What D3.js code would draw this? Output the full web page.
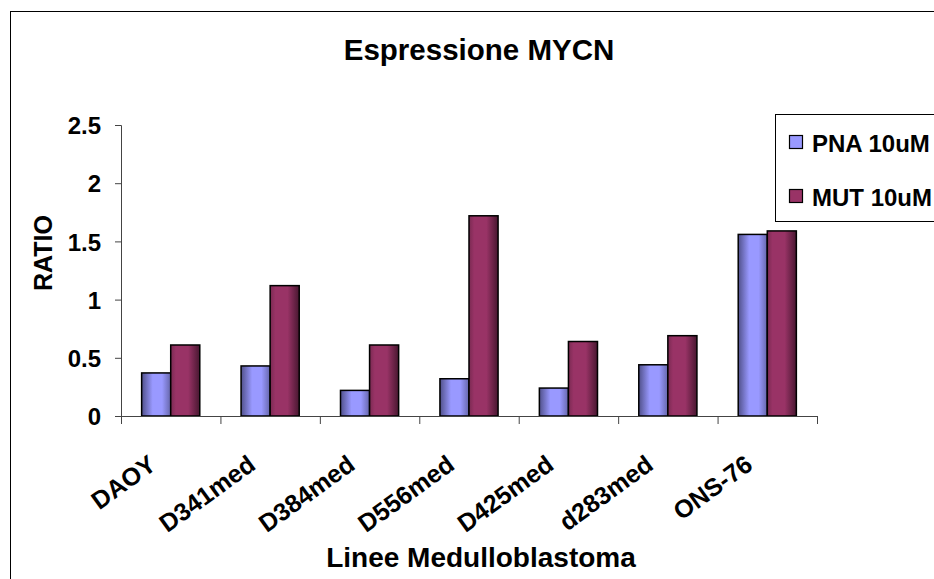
<!DOCTYPE html>
<html>
<head>
<meta charset="utf-8">
<script src="https://cdn.jsdelivr.net/npm/d3@7"></script>
<style>
  body { margin: 0; background: #fff; }
  svg text { font-family: "Liberation Sans", Arial, sans-serif; font-weight: bold; fill: #000; }
</style>
</head>
<body>
<div id="chart"></div>
<script>
const categories = ['DAOY', 'D341med', 'D384med', 'D556med', 'D425med', 'd283med', 'ONS-76'];
const seriesNames = ['PNA 10uM', 'MUT 10uM'];
const pnaValues = [0.37, 0.43, 0.22, 0.32, 0.24, 0.44, 1.56];
const mutValues = [0.61, 1.12, 0.61, 1.72, 0.64, 0.69, 1.59];
const yTicks = [0, 0.5, 1, 1.5, 2, 2.5];

const width = 934, height = 579;
const margin = { top: 125, right: 117, bottom: 163, left: 121 };
const innerWidth = width - margin.left - margin.right;
const innerHeight = height - margin.top - margin.bottom;

const svg = d3.select('#chart').append('svg')
  .attr('width', width)
  .attr('height', height);

// gradients like the old office shaded bars
const defs = svg.append('defs');
const gradStops = {
  'grad-pna': [['0%', '#50508a'], ['38%', '#9999ff'], ['70%', '#9999ff'], ['100%', '#6666aa']],
  'grad-mut': [['0%', '#7a2a52'], ['18%', '#993366'], ['60%', '#993366'], ['100%', '#481730']]
};
Object.entries(gradStops).forEach(([id, stops]) => {
  const g = defs.append('linearGradient').attr('id', id)
    .attr('x1', '0%').attr('x2', '100%').attr('y1', '0%').attr('y2', '0%');
  stops.forEach(([o, c]) => g.append('stop').attr('offset', o).attr('stop-color', c));
});
const fills = ['url(#grad-pna)', 'url(#grad-mut)'];
const swatchColors = ['#9999ff', '#993366'];

// outer chart border (runs off the right and bottom edges)
svg.append('rect')
  .attr('x', 10.5).attr('y', 11.5)
  .attr('width', width + 20).attr('height', height + 20)
  .attr('fill', 'none').attr('stroke', '#000').attr('stroke-width', 1);

svg.append('text')
  .attr('x', 479).attr('y', 60)
  .attr('text-anchor', 'middle')
  .style('font-size', '29.5px')
  .text('Espressione MYCN');

const g = svg.append('g')
  .attr('transform', `translate(${margin.left},${margin.top})`);

const x = d3.scaleBand().domain(categories).range([0, innerWidth]).padding(0);
const x1 = d3.scaleBand().domain(seriesNames).range([0, x.bandwidth()]).paddingInner(0).paddingOuter(0.71);
const y = d3.scaleLinear().domain([0, 2.5]).range([innerHeight, 0]);

// y axis
const yAxis = g.append('g')
  .call(d3.axisLeft(y).tickValues(yTicks).tickSize(6).tickPadding(14).tickFormat(d => d));
yAxis.select('.domain').attr('stroke', '#444').attr('d', `M-6,0.5H0.5V${innerHeight}`);
yAxis.selectAll('.tick line').attr('stroke', '#444');
yAxis.selectAll('.tick text').style('font-size', '24px').attr('dy', '0.36em');

// bars
const data = categories.map((c, i) => ({ cat: c, values: [pnaValues[i], mutValues[i]] }));
g.selectAll('.group')
  .data(data)
  .enter().append('g')
  .attr('class', 'group')
  .attr('transform', d => `translate(${x(d.cat)},0)`)
  .selectAll('rect')
  .data(d => d.values.map((v, i) => ({ s: seriesNames[i], v, i })))
  .enter().append('rect')
  .attr('x', d => x1(d.s))
  .attr('y', d => y(d.v))
  .attr('width', x1.bandwidth())
  .attr('height', d => innerHeight - y(d.v))
  .attr('fill', d => fills[d.i])
  .attr('stroke', '#000')
  .attr('stroke-width', 1.5);

// x axis line and boundary ticks
const xAxis = g.append('g').attr('transform', `translate(0,${innerHeight})`);
xAxis.append('line')
  .attr('x1', 0).attr('x2', innerWidth)
  .attr('y1', 0.5).attr('y2', 0.5)
  .attr('stroke', '#444');
const boundaries = categories.map(c => x(c)).concat([innerWidth]);
xAxis.selectAll('.xtick')
  .data(boundaries)
  .enter().append('line')
  .attr('x1', d => d + 0.5).attr('x2', d => d + 0.5)
  .attr('y1', 0).attr('y2', 8)
  .attr('stroke', '#444');

xAxis.selectAll('.xlabel')
  .data(categories)
  .enter().append('text')
  .attr('text-anchor', 'end')
  .style('font-size', '25px')
  .attr('transform', d => `translate(${x(d) + x.bandwidth() / 2 - 13},${52}) rotate(-36)`)
  .text(d => d);

// axis titles
svg.append('text')
  .attr('transform', `translate(52,253) rotate(-90)`)
  .attr('text-anchor', 'middle')
  .style('font-size', '25px')
  .text('RATIO');

svg.append('text')
  .attr('x', 481).attr('y', 567)
  .attr('text-anchor', 'middle')
  .style('font-size', '28px')
  .text('Linee Medulloblastoma');

// legend
const legend = svg.append('g');
legend.append('rect')
  .attr('x', 775.5).attr('y', 114.5)
  .attr('width', 200).attr('height', 107)
  .attr('fill', '#fff').attr('stroke', '#000');
seriesNames.forEach((s, i) => {
  const ly = 135 + i * 54;
  legend.append('rect')
    .attr('x', 789.5).attr('y', ly + 0.5)
    .attr('width', 13).attr('height', 13)
    .attr('fill', swatchColors[i]).attr('stroke', '#000').attr('stroke-width', 1.2);
  legend.append('text')
    .attr('x', 812).attr('y', ly + 17)
    .style('font-size', '24px')
    .text(s);
});
</script>
</body>
</html>
